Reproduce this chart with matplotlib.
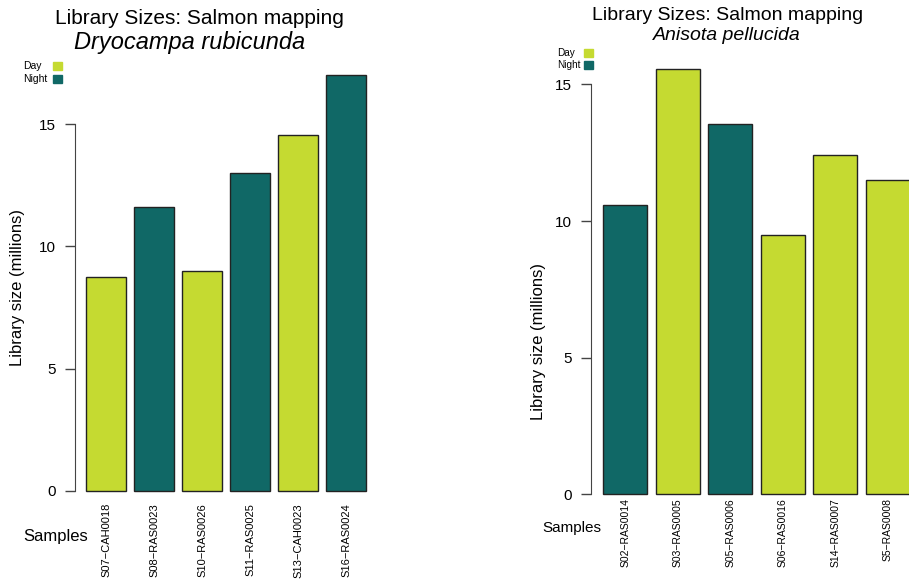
import numpy as np
import matplotlib
matplotlib.use("Agg")
import matplotlib.pyplot as plt
from matplotlib.patches import Rectangle

plt.rcParams["font.family"] = ["Liberation Sans", "DejaVu Sans"]

DAY = "#c5da31"
NIGHT = "#106866"

# Dryocampa rubicunda
dr_samples = ["S07\u2212CAH0018", "S08\u2212RAS0023", "S10\u2212RAS0026",
              "S11\u2212RAS0025", "S13\u2212CAH0023", "S16\u2212RAS0024"]
dr_sizes = [8.75, 11.62, 9.01, 12.99, 14.55, 17.01]
dr_period = ["Day", "Night", "Day", "Night", "Day", "Night"]

# Anisota pellucida
ap_samples = ["S02\u2212RAS0014", "S03\u2212RAS0005", "S05\u2212RAS0006",
              "S06\u2212RAS0016", "S14\u2212RAS0007", "S5\u2212RAS0008"]
ap_sizes = [10.58, 15.55, 13.55, 9.48, 12.42, 11.50]
ap_period = ["Night", "Day", "Night", "Day", "Day", "Day"]

W, H = 909, 584
fig = plt.figure(figsize=(W / 100, H / 100), dpi=100)


def px_axes(x0, x1, y_top, y_bot):
    """Axes placed by pixel edges (y measured from the top)."""
    return fig.add_axes([x0 / W, 1 - y_bot / H, (x1 - x0) / W, (y_bot - y_top) / H])


def library_panel(ax, samples, sizes, period, ylim, label_size, label_pad,
                  tick_size, tick_pad):
    pos = 0.7 + 1.2 * np.arange(len(samples))
    colors = [DAY if p == "Day" else NIGHT for p in period]
    ax.bar(pos, sizes, width=1.0, color=colors, edgecolor="#222222",
           linewidth=1.0, clip_on=False)
    ax.set_xlim(-0.08, 7.48)
    ax.set_ylim(*ylim)
    for s in ["top", "right", "bottom"]:
        ax.spines[s].set_visible(False)
    ax.spines["left"].set_bounds(0, 15)
    ax.spines["left"].set_color("#444444")
    ax.set_yticks([0, 5, 10, 15])
    ax.tick_params(axis="y", length=7, width=1, color="#444444",
                   pad=tick_pad, labelsize=tick_size)
    ax.set_xticks(pos)
    ax.set_xticklabels(samples, rotation=90, fontsize=label_size, va="top")
    ax.tick_params(axis="x", length=0, pad=label_pad)


def legend_block(x_text, x_box, y_day, y_night, size, box):
    for y, name, col in [(y_day, "Day", DAY), (y_night, "Night", NIGHT)]:
        fig.text(x_text / W, 1 - y / H, name, fontsize=size, va="center", ha="left")
        fig.patches.append(Rectangle((x_box / W, 1 - (y + box / 2) / H),
                                     box / W, box / H, color=col,
                                     transform=fig.transFigure, figure=fig))


# left panel
ax1 = px_axes(74.8, 377.2, 58.2, 498.3)
library_panel(ax1, dr_samples, dr_sizes, dr_period, (-0.3, 17.7),
              label_size=8, label_pad=3.4, tick_size=11, tick_pad=6.5)
fig.text(199 / W, 1 - 18 / H, "Library Sizes: Salmon mapping",
         fontsize=15, ha="center", va="center")
fig.text(190 / W, 1 - 42 / H, "Dryocampa rubicunda", fontsize=17,
         style="italic", ha="center", va="center")
fig.text(18 / W, 1 - 287 / H, "Library size (millions)", fontsize=12,
         rotation=90, ha="center", va="center")
fig.text(23 / W, 1 - 537 / H, "Samples", fontsize=12, ha="left", va="center")
legend_block(23, 53, 66, 79, 7.5, 8.5)

# right panel
ax2 = px_axes(591.0, 921.8, 51.6, 494.8)
library_panel(ax2, ap_samples, ap_sizes, ap_period, (-0.02, 16.2),
              label_size=7.5, label_pad=2.5, tick_size=11, tick_pad=6.5)
fig.text(727.5 / W, 1 - 15 / H, "Library Sizes: Salmon mapping",
         fontsize=14, ha="center", va="center")
fig.text(727 / W, 1 - 36 / H, "Anisota pellucida", fontsize=14,
         style="italic", ha="center", va="center")
fig.text(538 / W, 1 - 341 / H, "Library size (millions)", fontsize=12,
         rotation=90, ha="center", va="center")
fig.text(542 / W, 1 - 528 / H, "Samples", fontsize=11, ha="left", va="center")
legend_block(556.7, 584, 53, 65, 7.2, 8.5)

fig.savefig("out.png", dpi=100)
